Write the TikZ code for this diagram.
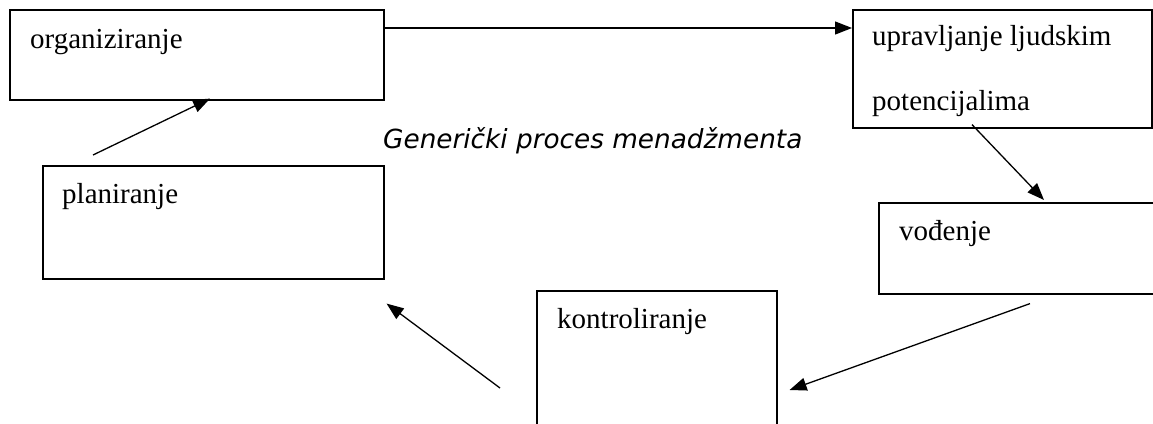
\documentclass[tikz,border=0pt]{standalone}
\usepackage{fontspec}
\setmainfont{Liberation Serif}
\newfontfamily\titlefont{DejaVu Sans Oblique}
\usetikzlibrary{arrows.meta}
\begin{document}
\begin{tikzpicture}[x=1pt,y=-1pt,
  box/.style={draw, line width=1.6pt, rectangle, inner sep=0pt, anchor=north west},
  lbl/.style={anchor=base west, inner sep=0pt, font=\fontsize{29}{35}\selectfont},
  arr/.style={line width=1.3pt, -{Triangle[length=17pt,width=13pt]}}]
\useasboundingbox (0,0) rectangle (1153,423);
\clip (0,0) rectangle (1153,423);
\node[box, minimum width=374pt, minimum height=90pt] (org) at (9,9) {};
\node[box, minimum width=299pt, minimum height=118pt] (up) at (852,9) {};
\node[box, minimum width=341pt, minimum height=113pt] (plan) at (42,165) {};
\node[box, minimum width=322pt, minimum height=91pt] (vod) at (878,202) {};
\node[box, minimum width=240pt, minimum height=170pt] (kon) at (536,290) {};
\node[lbl] (torg) at (30,48) {organiziranje};
\node[lbl] (tup1) at (872,45) {upravljanje ljudskim};
\node[lbl] (tup2) at (872,110) {potencijalima};
\node[lbl] (tplan) at (62,203) {planiranje};
\node[lbl] (tvod) at (899,240) {vođenje};
\node[lbl] (tkon) at (557,328) {kontroliranje};
\node[anchor=base west, inner sep=0pt, font=\titlefont\fontsize{26.3}{31}\selectfont] (title) at (383,148) {Generički proces menadžmenta};
\draw[arr] ([yshift=-19pt]org.north east) -- ([yshift=-19pt]up.north west);
\draw[arr] ([xshift=120pt,yshift=4pt]up.south west) -- ([xshift=166pt,yshift=2pt]vod.north west);
\draw[arr] ([xshift=152pt,yshift=-9pt]vod.south west) -- ([xshift=12pt,yshift=-100pt]kon.north east);
\draw[arr] ([xshift=-36pt,yshift=-98pt]kon.north west) -- ([xshift=2pt,yshift=-24pt]plan.south east);
\draw[arr] ([xshift=51pt,yshift=10pt]plan.north west) -- ([xshift=201pt,yshift=2pt]org.south west);
\end{tikzpicture}
\end{document}
